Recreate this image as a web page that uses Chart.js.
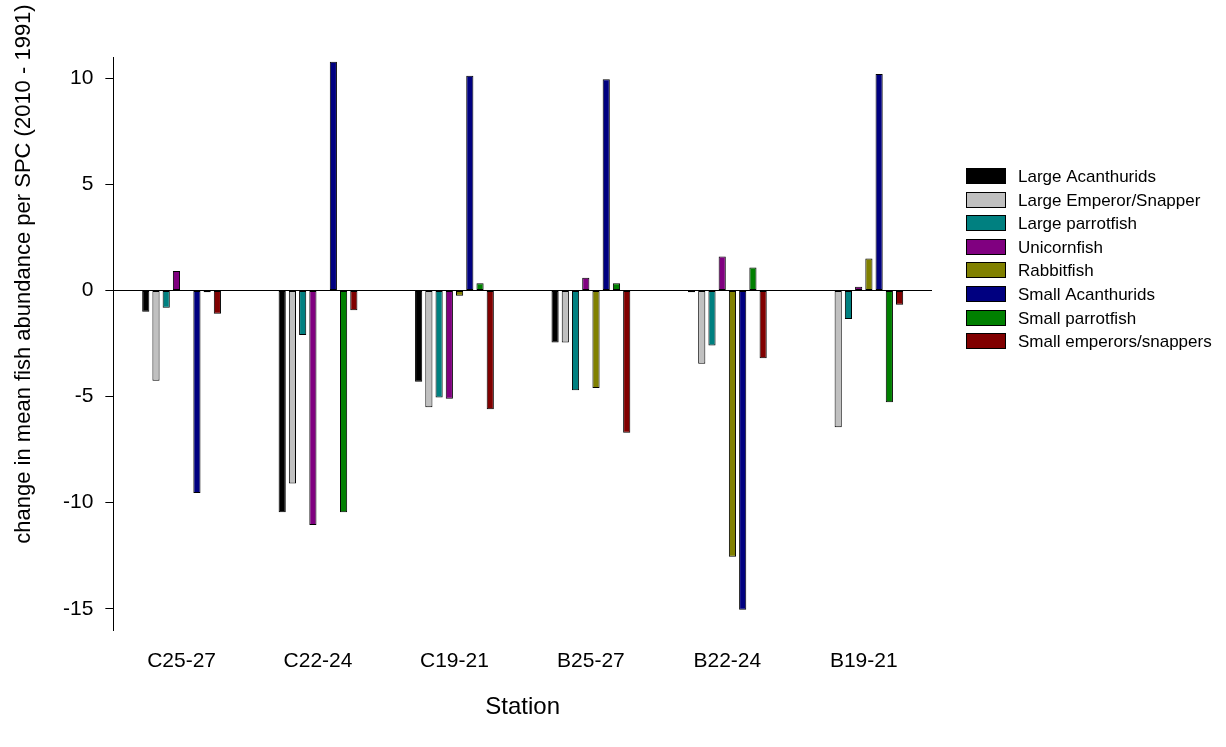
<!DOCTYPE html>
<html>
<head>
<meta charset="utf-8">
<script src="https://cdn.jsdelivr.net/npm/chart.js@4"></script>
<style>
  html, body { margin: 0; padding: 0; background: #fff; }
  #wrap { width: 1226px; height: 747px; }
</style>
</head>
<body>
<div id="wrap"><canvas id="fishChart" width="1226" height="747"></canvas></div>
<script>
// stations along the x axis
const stations = ['C25-27', 'C22-24', 'C19-21', 'B25-27', 'B22-24', 'B19-21'];

// change in mean abundance (2010 - 1991), one array per fish group
const largeAcanthurids = [-1.0, -10.45, -4.3, -2.45, -0.08, 0];
const largeEmperorSnapper = [-4.25, -9.1, -5.5, -2.45, -3.45, -6.45];
const largeParrotfish = [-0.82, -2.1, -5.05, -4.7, -2.6, -1.35];
const unicornfish = [0.92, -11.05, -5.1, 0.6, 1.6, 0.17];
const rabbitfish = [0, 0, -0.25, -4.6, -12.55, 1.5];
const smallAcanthurids = [-9.55, 10.78, 10.12, 9.95, -15.05, 10.2];
const smallParrotfish = [-0.08, -10.45, 0.34, 0.34, 1.08, -5.27];
const smallEmperorsSnappers = [-1.1, -0.93, -5.6, -6.7, -3.2, -0.67];

const yTicks = [-15, -10, -5, 0, 5, 10];

const series = [
    { label: 'Large Acanthurids', data: largeAcanthurids, color: '#000000' },
    { label: 'Large Emperor/Snapper', data: largeEmperorSnapper, color: '#c0c0c0' },
    { label: 'Large parrotfish', data: largeParrotfish, color: '#008080' },
    { label: 'Unicornfish', data: unicornfish, color: '#800080' },
    { label: 'Rabbitfish', data: rabbitfish, color: '#808000' },
    { label: 'Small Acanthurids', data: smallAcanthurids, color: '#000080' },
    { label: 'Small parrotfish', data: smallParrotfish, color: '#008000' },
    { label: 'Small emperors/snappers', data: smallEmperorsSnappers, color: '#800000' }
];

const FONT = "'Liberation Sans', Arial, sans-serif";

// legend + rotated y title drawn by hand so they sit where the original has them
const sidePlugin = {
    id: 'sideStuff',
    afterDraw(chart) {
        const ctx = chart.ctx;
        ctx.save();
        // legend
        ctx.font = '17px ' + FONT;
        ctx.textBaseline = 'middle';
        ctx.textAlign = 'left';
        chart.data.datasets.forEach((ds, i) => {
            const y = Math.round(176 + i * 23.6);
            ctx.fillStyle = ds.backgroundColor;
            ctx.fillRect(966, y - 8, 40, 16);
            ctx.strokeStyle = '#000';
            ctx.lineWidth = 1;
            ctx.strokeRect(966.5, y - 7.5, 39, 15);
            ctx.fillStyle = '#000';
            ctx.fillText(ds.label, 1018, y + 1);
        });
        // y axis title
        ctx.translate(24, 274);
        ctx.rotate(-Math.PI / 2);
        ctx.textAlign = 'center';
        ctx.font = '22px ' + FONT;
        ctx.fillText('change in mean fish abundance per SPC (2010 - 1991)', 0, 0);
        ctx.restore();
    }
};

new Chart(document.getElementById('fishChart'), {
    type: 'bar',
    data: {
        labels: stations,
        datasets: series.map(s => ({
            label: s.label,
            data: s.data,
            backgroundColor: s.color,
            borderColor: '#000',
            borderWidth: 1,
            borderSkipped: false,
            categoryPercentage: 0.6,
            barPercentage: 0.7
        }))
    },
    options: {
        responsive: false,
        animation: false,
        layout: { padding: { left: 51, right: 294, top: 57, bottom: 25 } },
        plugins: {
            legend: { display: false },
            tooltip: { enabled: false }
        },
        scales: {
            x: {
                border: { display: false },
                grid: { display: false, drawTicks: false },
                ticks: { color: '#000', font: { family: FONT, size: 21 }, padding: 19 },
                title: {
                    display: true,
                    text: 'Station',
                    color: '#000',
                    font: { family: FONT, size: 24 },
                    padding: { top: 0, bottom: 0 }
                }
            },
            y: {
                min: -16,
                max: 11,
                afterBuildTicks: axis => { axis.ticks = yTicks.map(v => ({ value: v })); },
                border: { display: true, color: '#000', width: 1 },
                grid: {
                    drawOnChartArea: true,
                    color: c => (c.tick && c.tick.value === 0 ? '#000' : 'rgba(0,0,0,0)'),
                    tickColor: '#000',
                    tickLength: 8
                },
                ticks: { color: '#000', font: { family: FONT, size: 21 }, padding: 12 }
            }
        }
    },
    plugins: [sidePlugin]
});
</script>
</body>
</html>
